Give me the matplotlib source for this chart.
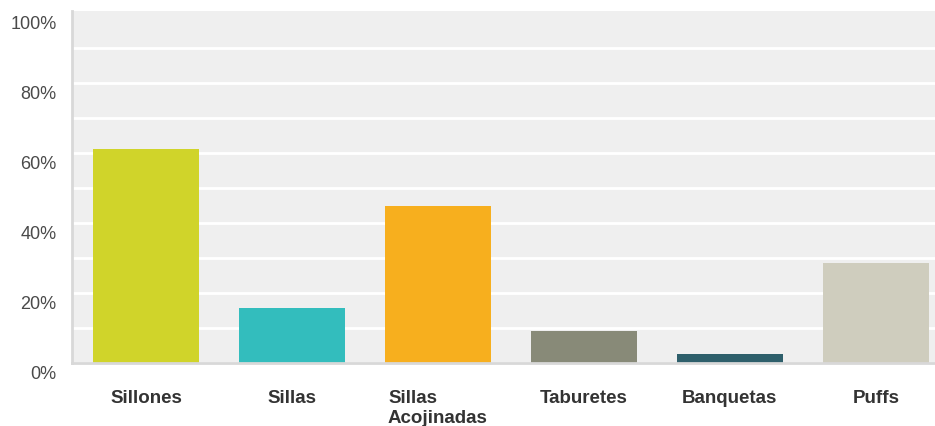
import matplotlib
matplotlib.use('Agg')
import matplotlib.pyplot as plt
import matplotlib.ticker as ticker
from matplotlib.transforms import ScaledTranslation

plt.rcParams['font.family'] = ['Liberation Sans', 'DejaVu Sans']

categorias = ['Sillones', 'Sillas', 'Sillas\nAcojinadas', 'Taburetes', 'Banquetas', 'Puffs']
porcentajes = [61.1, 15.6, 44.9, 9.1, 2.6, 28.6]
colores = ['#D0D42A', '#33BDBD', '#F7AF1E', '#888A78', '#2E5F6B', '#CFCDBE']
yticks = [0, 20, 40, 60, 80, 100]

fig = plt.figure(figsize=(9.35, 4.27), dpi=100)
ax = fig.add_axes([0.077, 0.1475, 0.923, 0.8245])
ax.set_facecolor('#EFEFEF')

x = range(len(categorias))
ax.bar(x, porcentajes, width=0.726, color=colores, zorder=3)

ax.set_xlim(-0.507, 5.405)
ax.set_ylim(0, 100.6)

# rejilla blanca cada 10% (sin la linea de 100%)
ax.yaxis.set_minor_locator(ticker.FixedLocator([10, 30, 50, 70, 90]))
ax.set_yticks(yticks)
ax.set_yticklabels([f'{v}%' for v in yticks])
ax.grid(True, axis='y', which='both', color='white', linewidth=2, zorder=1)
ax.set_axisbelow(True)
ax.yaxis.get_gridlines()[-1].set_visible(False)

ax.set_xticks(list(x))
ax.set_xticklabels(categorias, fontsize=13.5, fontweight='bold', color='#333333',
                   multialignment='left', va='top')
ax.tick_params(axis='x', length=0, pad=19)
ax.tick_params(axis='y', which='both', length=0, pad=11, labelsize=13,
               labelcolor='#4A4A4A')

# etiquetas del eje y un poco por debajo de la linea
off = ScaledTranslation(0, -8 / 100, fig.dpi_scale_trans)
for lab in ax.get_yticklabels():
    lab.set_transform(lab.get_transform() + off)

for s in ['top', 'right']:
    ax.spines[s].set_visible(False)
for s in ['left', 'bottom']:
    ax.spines[s].set_color('#D8D8D8')
    ax.spines[s].set_linewidth(2)
    ax.spines[s].set_zorder(4)

fig.savefig('out.png', dpi=100, facecolor='white')
